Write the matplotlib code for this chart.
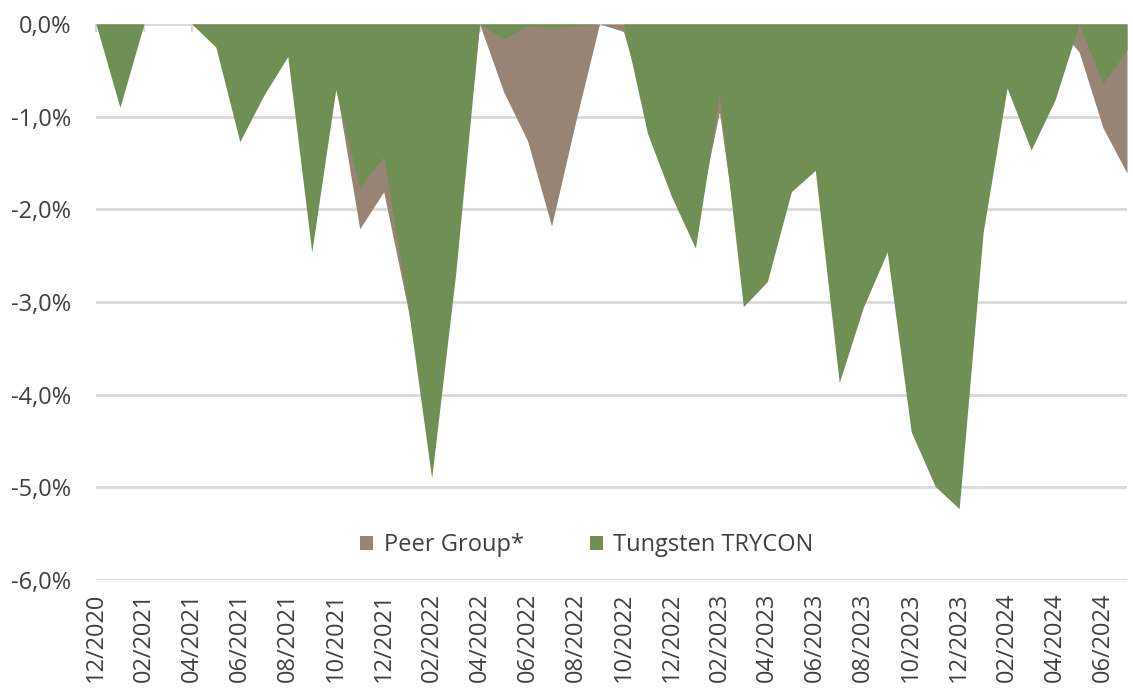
import numpy as np
import matplotlib
matplotlib.use("Agg")
from matplotlib import pyplot as plt
from matplotlib.patches import Patch

# Monthly drawdown, 12/2020 .. 07/2024 (in %)
months = [
    "12/2020", "01/2021", "02/2021", "03/2021", "04/2021", "05/2021", "06/2021", "07/2021",
    "08/2021", "09/2021", "10/2021", "11/2021", "12/2021", "01/2022", "02/2022", "03/2022",
    "04/2022", "05/2022", "06/2022", "07/2022", "08/2022", "09/2022", "10/2022", "11/2022",
    "12/2022", "01/2023", "02/2023", "03/2023", "04/2023", "05/2023", "06/2023", "07/2023",
    "08/2023", "09/2023", "10/2023", "11/2023", "12/2023", "01/2024", "02/2024", "03/2024",
    "04/2024", "05/2024", "06/2024", "07/2024",
]

trycon = [
    0.0, -0.90, 0.0, 0.0, 0.0, -0.25, -1.27, -0.77,
    -0.35, -2.46, -0.71, -1.77, -1.43, -3.02, -4.90, -2.70,
    0.0, -0.16, -0.02, -0.04, -0.02, 0.0, 0.0, -1.18,
    -1.86, -2.42, -0.77, -3.05, -2.78, -1.81, -1.58, -3.87,
    -3.06, -2.46, -4.40, -4.99, -5.23, -2.25, -0.69, -1.36,
    -0.82, 0.0, -0.64, -0.28,
]

peer_group = [
    0.0, -0.70, 0.0, 0.0, 0.0, -0.20, -1.10, -0.60,
    -0.30, -2.20, -0.66, -2.21, -1.81, -3.06, -4.40, -2.40,
    0.0, -0.73, -1.26, -2.18, -1.06, 0.0, -0.08, -1.00,
    -1.70, -2.20, -0.95, -2.80, -2.50, -1.60, -1.40, -3.50,
    -2.80, -2.20, -4.00, -4.60, -4.80, -2.00, -0.60, -1.20,
    0.0, -0.30, -1.12, -1.61,
]

yticks = [0, -1, -2, -3, -4, -5, -6]

GREEN = "#6F8F55"
BROWN = "#978474"
GRID = "#D9D9D9"
TEXT = "#404040"

plt.rcParams["font.family"] = ["Open Sans", "DejaVu Sans"]

fig = plt.figure(figsize=(11.33, 6.89), dpi=100)
ax = fig.add_axes([0.0847, 0.1582, 0.9100, 0.8070])

x = np.arange(len(months))
ax.fill_between(x, peer_group, 0, color=BROWN, linewidth=0, zorder=2)
ax.fill_between(x, trycon, 0, color=GREEN, linewidth=0, zorder=3)

ax.set_xlim(0, len(months) - 1)
ax.set_ylim(-6, 0)

# Gridlines
ax.set_yticks(yticks)
ax.set_yticklabels([f"{v:.1f}%".replace(".", ",") for v in yticks])
for v in yticks:
    ax.axhline(v, color=GRID, linewidth=2, zorder=1)

for side in ["left", "right", "bottom", "top"]:
    ax.spines[side].set_visible(False)

# Category ticks at the zero line, labels at the bottom
ax.set_xticks(x[::2])
ax.set_xticklabels(months[::2], rotation=90)
ax.xaxis.set_tick_params(top=True, bottom=False, direction="in", length=6,
                         width=1.5, color=GRID, labelsize=17, labelcolor=TEXT, pad=9)
ax.yaxis.set_tick_params(left=False, labelsize=17, labelcolor=TEXT, pad=14.5)
for t in ax.xaxis.get_major_ticks():
    t.tick2line.set_zorder(4)

handles = [Patch(facecolor=BROWN, label="Peer Group*"),
           Patch(facecolor=GREEN, label="Tungsten TRYCON")]
ax.legend(handles=handles, loc="center", bbox_to_anchor=(0.476, 0.063), ncol=2,
          frameon=False, fontsize=17, labelcolor=TEXT, handlelength=0.55,
          handleheight=0.55, handletextpad=0.45, columnspacing=2.8)

fig.savefig("out.png", dpi=100)
